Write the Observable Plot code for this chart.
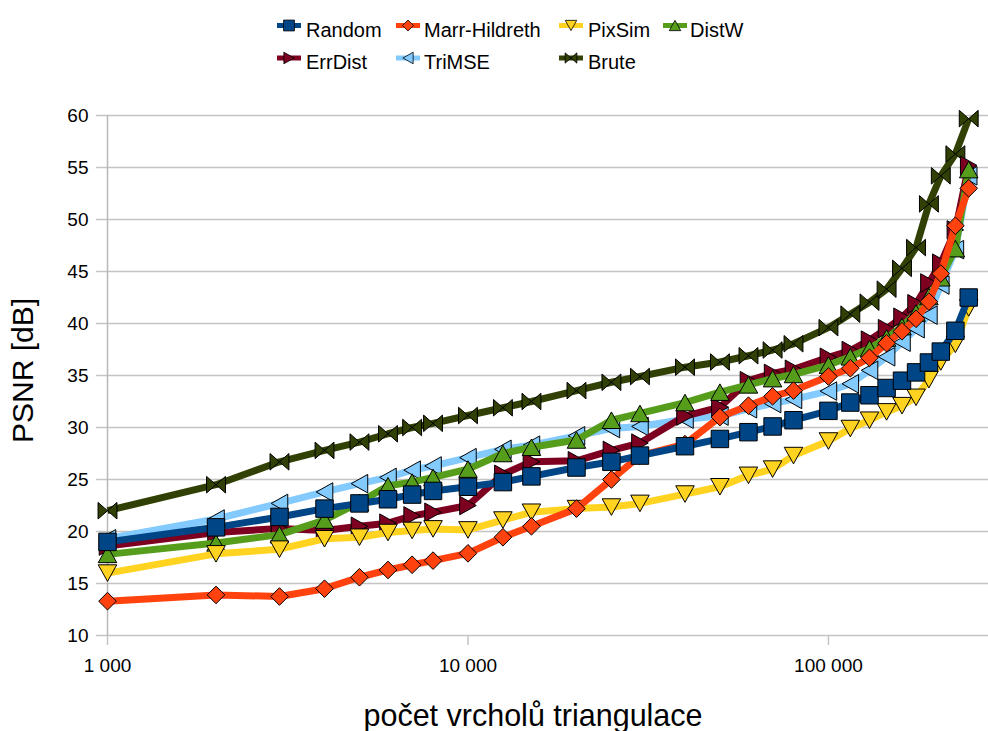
<!DOCTYPE html>
<html>
<head>
<meta charset="utf-8">
<script src="https://cdn.jsdelivr.net/npm/d3@7"></script>
<script src="https://cdn.jsdelivr.net/npm/@observablehq/plot@0.6"></script>
<style>
  html, body { margin: 0; padding: 0; background: #fff; }
  body { width: 988px; height: 731px; overflow: hidden; font-family: "Liberation Sans", Arial, sans-serif; }
  #legend { display: block; }
</style>
</head>
<body>
<svg id="legend" width="988" height="95"></svg>
<div id="chart"></div>
<script>
// ---- data ----
const vertices = [1000, 2000, 3000, 4000, 5000, 6000, 7000, 8000, 10000, 12500, 15000, 20000, 25000, 30000,
  40000, 50000, 60000, 70000, 80000, 100000, 115000, 130000, 145000, 160000, 175000, 190000, 205000, 225000, 245000];

const random       = [19.0, 20.4, 21.4, 22.2, 22.7, 23.1, 23.55, 23.9, 24.3, 24.75, 25.3, 26.15, 26.7, 27.3, 28.2, 28.9, 29.55, 30.1, 30.7, 31.6, 32.4, 33.1, 33.8, 34.5, 35.3, 36.25, 37.3, 39.3, 42.5];
const marrHildreth = [13.3, 13.9, 13.75, 14.5, 15.6, 16.3, 16.8, 17.2, 17.9, 19.45, 20.5, 22.2, 25.0, 27.3, 28.4, 31.0, 32.1, 33.0, 33.55, 34.9, 35.7, 36.7, 38.1, 39.25, 40.45, 42.1, 44.8, 49.4, 53.0];
const pixSim       = [16.0, 17.85, 18.3, 19.3, 19.45, 19.9, 20.1, 20.25, 20.15, 21.1, 21.85, 22.2, 22.35, 22.7, 23.6, 24.3, 25.4, 26.0, 27.3, 28.7, 29.9, 30.7, 31.5, 32.1, 32.9, 34.6, 36.3, 38.0, 41.5];
const distW        = [17.8, 18.9, 19.7, 21.1, 22.8, 24.4, 24.75, 25.2, 26.0, 27.5, 28.1, 28.8, 30.7, 31.35, 32.4, 33.4, 34.1, 34.7, 35.1, 36.0, 36.8, 37.6, 38.6, 39.7, 41.0, 42.6, 44.4, 47.2, 54.8];
const errDist      = [18.6, 19.9, 20.3, 20.1, 20.5, 20.8, 21.5, 21.85, 22.5, 25.5, 26.7, 26.8, 27.8, 28.5, 31.1, 31.95, 34.5, 35.2, 35.6, 36.75, 37.4, 38.4, 39.5, 40.6, 41.9, 43.9, 45.8, 49.0, 55.2];
const triMSE       = [19.3, 21.2, 22.7, 23.8, 24.6, 25.2, 25.9, 26.3, 27.1, 27.9, 28.3, 29.2, 29.9, 30.1, 30.8, 31.1, 31.8, 32.3, 32.7, 33.5, 34.2, 35.5, 36.8, 38.2, 39.5, 40.8, 43.7, 47.1, 54.2];
const brute        = [22.0, 24.5, 26.7, 27.8, 28.6, 29.4, 30.0, 30.4, 31.15, 31.9, 32.5, 33.55, 34.35, 34.9, 35.8, 36.3, 36.9, 37.45, 38.05, 39.6, 40.9, 42.05, 43.3, 45.3, 47.3, 51.5, 54.2, 56.3, 59.7];

const seriesNames  = ["Random", "Marr-Hildreth", "PixSim", "DistW", "ErrDist", "TriMSE", "Brute"];
const seriesValues = [random, marrHildreth, pixSim, distW, errDist, triMSE, brute];
const seriesColors = ["#004586", "#ff420e", "#ffd320", "#579d1c", "#7e0021", "#83caff", "#314004"];
const seriesShapes = ["square", "diamond", "down", "up", "right", "left", "bowtie"];

const yTicks = [10, 15, 20, 25, 30, 35, 40, 45, 50, 55, 60];
const xTicks = [1000, 10000, 100000];
const xTitle = "počet vrcholů triangulace";
const yTitle = "PSNR [dB]";

// ---- marker shapes (bounding-box centred, like the office chart symbols) ----
function sym(fn) { return { draw(c, size) { fn(c, Math.sqrt(size / Math.PI)); } }; }
const shapes = {
  square: sym((c, r) => { const s = r * 0.97; c.moveTo(-s, -s); c.lineTo(s, -s); c.lineTo(s, s); c.lineTo(-s, s); c.closePath(); }),
  diamond: sym((c, r) => { const s = r * 0.98; c.moveTo(0, -s); c.lineTo(s, 0); c.lineTo(0, s); c.lineTo(-s, 0); c.closePath(); }),
  down: sym((c, r) => { const w = r * 1.03, h = r * 0.92; c.moveTo(-w, -h); c.lineTo(w, -h); c.lineTo(0, h); c.closePath(); }),
  up: sym((c, r) => { const w = r * 1.03, h = r * 0.92; c.moveTo(-w, h); c.lineTo(w, h); c.lineTo(0, -h); c.closePath(); }),
  right: sym((c, r) => { const w = r * 0.92, h = r * 1.03; c.moveTo(-w, -h); c.lineTo(w, 0); c.lineTo(-w, h); c.closePath(); }),
  left: sym((c, r) => { const w = r * 0.92, h = r * 1.03; c.moveTo(w, -h); c.lineTo(-w, 0); c.lineTo(w, h); c.closePath(); }),
  bowtie: sym((c, r) => { const w = r * 1.05, h = r * 0.92;
    c.moveTo(-w, -h); c.lineTo(0, 0); c.lineTo(-w, h); c.closePath();
    c.moveTo(w, -h); c.lineTo(0, 0); c.lineTo(w, h); c.closePath(); })
};

// ---- table ----
const rows = [];
seriesNames.forEach((name, si) => {
  seriesValues[si].forEach((v, i) => rows.push({ series: name, si, x: vertices[i], y: v }));
});

const fmt = d3.formatLocale({ decimal: ",", thousands: " ", grouping: [3], currency: ["", ""] }).format(",d");

const seriesMarks = [];
for (let si = seriesNames.length - 1; si >= 0; si--) {
  const d = rows.filter(r => r.si === si);
  seriesMarks.push(
    Plot.line(d, { x: "x", y: "y", stroke: seriesColors[si], strokeWidth: 7, strokeLinejoin: "round", strokeLinecap: "butt" }),
    Plot.dot(d, { x: "x", y: "y", symbol: shapes[seriesShapes[si]], r: 9, fill: seriesColors[si], stroke: "#000", strokeWidth: 1 })
  );
}

const chart = Plot.plot({
  width: 988,
  height: 636,
  marginTop: 20,
  marginBottom: 96,
  marginLeft: 107,
  marginRight: 0,
  style: { fontFamily: "Liberation Sans, Arial, sans-serif", fontSize: "19px", background: "#fff", color: "#000" },
  x: { type: "log", domain: [1000, 278000] },
  y: { domain: [10, 60] },
  marks: [
    Plot.gridY(yTicks, { stroke: "#c4c4c4", strokeOpacity: 1, strokeWidth: 1.5 }),
    Plot.ruleX([1000], { stroke: "#b8b8b8", strokeWidth: 1.5 }),
    Plot.axisY(yTicks, { anchor: "left", tickSize: 11, tickPadding: 8, stroke: "#c4c4c4", strokeWidth: 1.5, fontSize: 19, label: null, tickFormat: d => String(d) }),
    Plot.axisX(xTicks, { anchor: "bottom", tickSize: 10, tickPadding: 13, stroke: "#c4c4c4", strokeWidth: 1.5, fontSize: 19, label: null, tickFormat: fmt }),
    ...seriesMarks,
    Plot.text([yTitle], { frameAnchor: "left", rotate: -90, textAnchor: "middle", dx: -84, dy: -5, lineAnchor: "middle", fontSize: 30, fill: "#000" }),
    Plot.text([xTitle], { frameAnchor: "bottom", textAnchor: "middle", dx: -15, dy: 81, lineAnchor: "middle", fontSize: 30.5, fill: "#000" })
  ]
});
document.getElementById("chart").appendChild(chart);

// ---- legend ----
const legendPos = [
  { col: 0, row: 0 }, { col: 1, row: 0 }, { col: 2, row: 0 }, { col: 3, row: 0 },
  { col: 0, row: 1 }, { col: 1, row: 1 }, { col: 2, row: 1 }
];
const colSwatchX = [277, 396, 559, 663];
const colTextX = [306, 424, 588, 690];
const rowSwatchY = [25.5, 58];
const rowTextY = [36.5, 69];
const lg = d3.select("#legend");
seriesNames.forEach((name, si) => {
  const p = legendPos[si];
  const x0 = colSwatchX[p.col], y0 = rowSwatchY[p.row];
  lg.append("line").attr("x1", x0).attr("x2", x0 + 24).attr("y1", y0).attr("y2", y0)
    .attr("stroke", seriesColors[si]).attr("stroke-width", 5);
  const path = d3.path();
  shapes[seriesShapes[si]].draw(path, 5.6 * 5.6 * Math.PI);
  lg.append("path").attr("d", path.toString()).attr("transform", `translate(${x0 + 12},${y0})`)
    .attr("fill", seriesColors[si]).attr("stroke", "#000").attr("stroke-width", 0.8);
  lg.append("text").attr("x", colTextX[p.col]).attr("y", rowTextY[p.row])
    .attr("font-family", "Liberation Sans, Arial, sans-serif").attr("font-size", 20).attr("fill", "#000").text(name);
});
</script>
</body>
</html>
